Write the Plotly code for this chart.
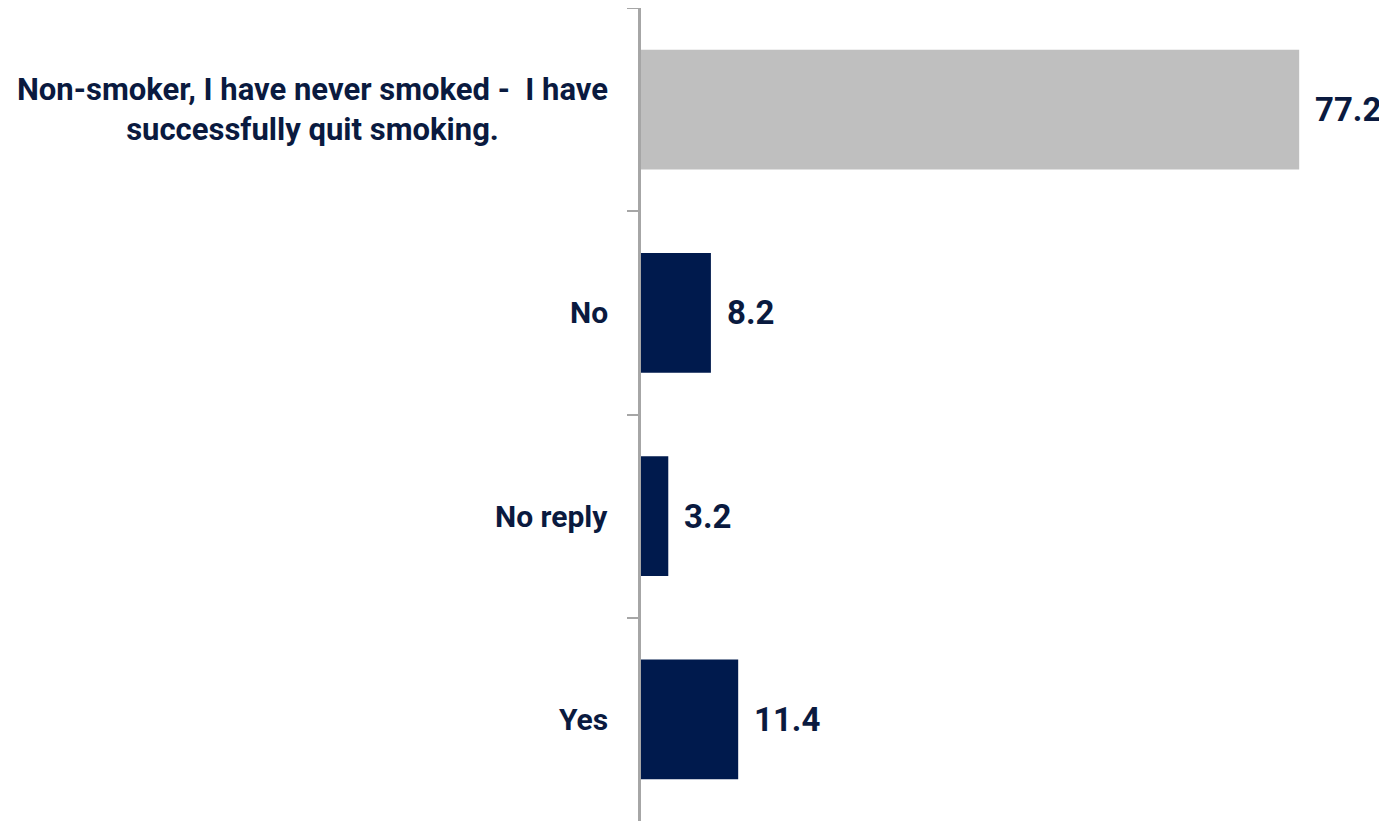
import plotly.graph_objects as go

categories = ["Non-smoker, I have never smoked -\u00a0 I have<br>successfully quit smoking.", "No", "No reply", "Yes"]
values = [77.2, 8.2, 3.2, 11.4]
value_labels = ["77.2", "8.2", "3.2", "11.4"]
bar_colors = ["#BFBFBF", "#001A4D", "#001A4D", "#001A4D"]

FONT = "Roboto, Liberation Sans, sans-serif"
TEXT_COLOR = "#0A1A3F"

fig = go.Figure()
fig.add_trace(go.Bar(
    y=categories, x=values, orientation="h",
    marker=dict(color=bar_colors, line=dict(width=0)),
    width=0.59, hoverinfo="skip",
))

annotations = []
for cat, v, lab in zip(categories, values, value_labels):
    annotations.append(dict(
        x=v, y=cat, xref="x", yref="y", text=f"<b>{lab}</b>",
        showarrow=False, xanchor="left", xshift=14,
        font=dict(family=FONT, size=33, color=TEXT_COLOR),
    ))
    multi = "<br>" in cat
    annotations.append(dict(
        x=0, y=cat, xref="paper", yref="y", text=f"<b>{cat}</b>",
        showarrow=False, xanchor="right", xshift=-31, align="center",
        font=dict(family=FONT, size=31 if multi else 30, color=TEXT_COLOR),
    ))

fig.update_layout(
    width=1379, height=814,
    margin=dict(l=633, r=0, t=0, b=1, autoexpand=False),
    paper_bgcolor="white", plot_bgcolor="white",
    showlegend=False,
    annotations=annotations,
    xaxis=dict(range=[0, 87.5], visible=False, fixedrange=True),
    yaxis=dict(
        type="category", categoryorder="array", categoryarray=categories,
        autorange="reversed", tickson="boundaries",
        ticks="outside", ticklen=11, tickwidth=2, tickcolor="#A6A6A6",
        showline=True, linecolor="#A6A6A6", linewidth=3,
        showticklabels=False, showgrid=False, zeroline=False,
    ),
)

fig.write_html("out.html")
